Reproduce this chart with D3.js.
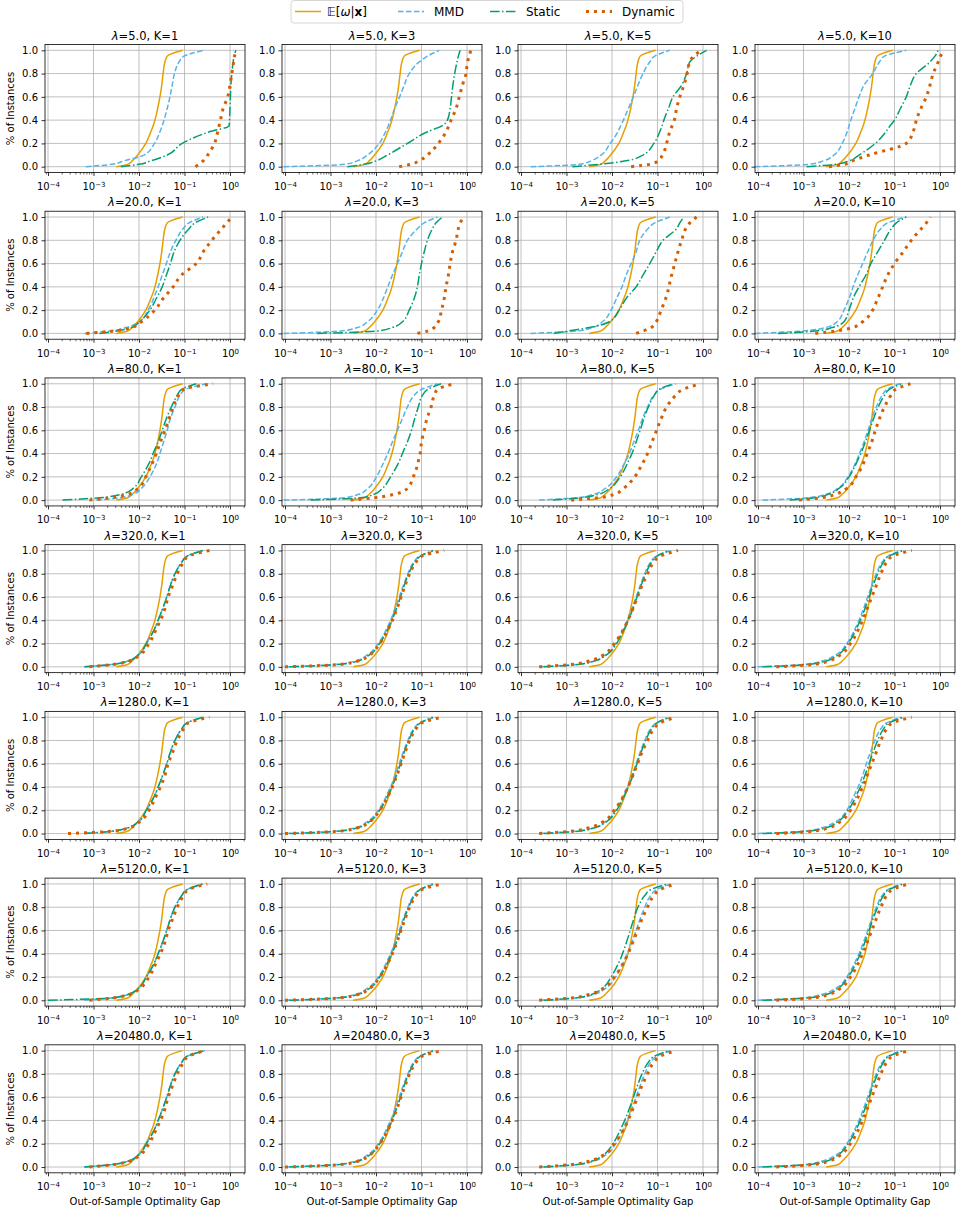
<!DOCTYPE html>
<html><head><meta charset="utf-8">
<script src="https://cdn.jsdelivr.net/npm/d3@7"></script>
<style>
body{margin:0;background:#fff}
svg{display:block}
text{font-family:"DejaVu Sans",sans-serif;fill:#000}
</style>
</head><body>
<svg id="chart" width="956" height="1212"></svg>
<script>
// ---------------- data ----------------
const lambdas = ["5.0","20.0","80.0","320.0","1280.0","5120.0","20480.0"];
const kValues = [1,3,5,10];
const methodNames = ["E","MMD","Static","Dynamic"];
const shareLevels = [0,0.02,0.05,0.1,0.2,0.3,0.35,0.4,0.5,0.6,0.7,0.8,0.9,0.95,1];
const xTickExponents = [-4,-3,-2,-1,0];
const yTicks = [0,0.2,0.4,0.6,0.8,1.0];

// log10 of the out-of-sample optimality gap reached at each share level
const expectedGapLog = [-2.5,-2.25,-2.15,-2.03,-1.85,-1.74,-1.69,-1.65,-1.59,-1.54,-1.5,-1.47,-1.43,-1.38,-1.04];

const mmdGapLog = [
 [[-3.17,-2.6,-2.33,-1.89,-1.66,-1.54,-1.49,-1.45,-1.38,-1.32,-1.27,-1.22,-1.12,-1.01,-0.58],
  [-4.03,-2.7,-2.41,-2.19,-1.93,-1.79,-1.73,-1.68,-1.59,-1.48,-1.38,-1.27,-1.05,-0.87,-0.61],
  [-3.79,-2.72,-2.46,-2.24,-2.04,-1.87,-1.81,-1.75,-1.64,-1.53,-1.43,-1.32,-1.17,-1.06,-0.73],
  [-4.07,-2.89,-2.56,-2.33,-2.15,-2.04,-2.0,-1.96,-1.87,-1.78,-1.67,-1.48,-1.33,-1.22,-0.74]],
 [[-3.2,-2.65,-2.28,-2.0,-1.8,-1.68,-1.63,-1.58,-1.49,-1.4,-1.31,-1.19,-1.03,-0.9,-0.59],
  [-4.03,-2.78,-2.41,-2.19,-1.97,-1.84,-1.79,-1.74,-1.64,-1.53,-1.42,-1.31,-1.09,-0.94,-0.65],
  [-3.79,-2.8,-2.43,-2.21,-2.02,-1.9,-1.84,-1.78,-1.69,-1.58,-1.47,-1.39,-1.21,-1.06,-0.73],
  [-4.07,-3.04,-2.52,-2.26,-2.11,-2.0,-1.95,-1.91,-1.81,-1.7,-1.59,-1.47,-1.3,-1.15,-0.74]],
 [[-2.94,-2.43,-2.13,-1.95,-1.76,-1.63,-1.58,-1.54,-1.46,-1.38,-1.31,-1.21,-1.1,-0.99,-0.51],
  [-4.03,-2.71,-2.38,-2.18,-1.99,-1.86,-1.8,-1.74,-1.64,-1.53,-1.42,-1.31,-1.16,-1.01,-0.65],
  [-3.6,-2.8,-2.4,-2.15,-1.9,-1.75,-1.68,-1.62,-1.52,-1.42,-1.33,-1.22,-1.08,-0.95,-0.6],
  [-3.9,-2.9,-2.5,-2.25,-2.02,-1.88,-1.82,-1.77,-1.67,-1.58,-1.5,-1.4,-1.27,-1.17,-0.9]],
 [[-3.2,-2.61,-2.24,-2.02,-1.84,-1.69,-1.63,-1.58,-1.48,-1.39,-1.31,-1.21,-1.06,-0.95,-0.6],
  [-4.0,-2.9,-2.45,-2.2,-1.95,-1.8,-1.74,-1.68,-1.58,-1.49,-1.4,-1.3,-1.17,-1.05,-0.7],
  [-3.6,-2.8,-2.4,-2.15,-1.92,-1.78,-1.72,-1.66,-1.56,-1.47,-1.38,-1.28,-1.15,-1.03,-0.7],
  [-4.0,-3.0,-2.6,-2.3,-2.05,-1.9,-1.84,-1.78,-1.68,-1.59,-1.5,-1.4,-1.27,-1.15,-0.85]],
 [[-3.2,-2.61,-2.24,-2.02,-1.84,-1.69,-1.63,-1.58,-1.48,-1.39,-1.31,-1.21,-1.06,-0.95,-0.6],
  [-4.0,-2.9,-2.45,-2.2,-1.95,-1.8,-1.74,-1.68,-1.58,-1.49,-1.4,-1.3,-1.17,-1.05,-0.7],
  [-3.6,-2.8,-2.4,-2.15,-1.92,-1.78,-1.72,-1.66,-1.56,-1.47,-1.38,-1.28,-1.15,-1.03,-0.7],
  [-4.0,-3.0,-2.6,-2.3,-2.05,-1.92,-1.86,-1.8,-1.7,-1.62,-1.53,-1.43,-1.3,-1.18,-0.85]],
 [[-3.2,-2.61,-2.24,-2.02,-1.84,-1.69,-1.63,-1.58,-1.48,-1.39,-1.31,-1.21,-1.06,-0.95,-0.6],
  [-4.0,-2.9,-2.45,-2.2,-1.95,-1.8,-1.74,-1.68,-1.58,-1.49,-1.4,-1.3,-1.17,-1.05,-0.7],
  [-3.6,-2.8,-2.4,-2.15,-1.92,-1.78,-1.72,-1.66,-1.56,-1.47,-1.38,-1.28,-1.15,-1.03,-0.7],
  [-4.0,-3.0,-2.6,-2.3,-2.05,-1.9,-1.84,-1.78,-1.68,-1.59,-1.5,-1.4,-1.27,-1.15,-0.85]],
 [[-3.2,-2.61,-2.24,-2.02,-1.84,-1.69,-1.63,-1.58,-1.48,-1.39,-1.31,-1.21,-1.06,-0.95,-0.55],
  [-4.0,-2.9,-2.45,-2.2,-1.95,-1.8,-1.74,-1.68,-1.58,-1.49,-1.4,-1.3,-1.17,-1.05,-0.7],
  [-3.6,-2.8,-2.4,-2.15,-1.92,-1.78,-1.72,-1.66,-1.56,-1.47,-1.38,-1.28,-1.15,-1.03,-0.7],
  [-4.0,-3.0,-2.6,-2.3,-2.05,-1.9,-1.84,-1.78,-1.68,-1.59,-1.5,-1.4,-1.27,-1.15,-0.85]]
];

const staticGapLog = [
 [[-2.4,-2.0,-1.74,-1.38,-1.05,-0.45,-0.02,-0.01,0.0,0.01,0.02,0.04,0.07,0.09,0.13],
  [-2.63,-2.26,-2.0,-1.75,-1.31,-0.87,-0.55,-0.43,-0.37,-0.34,-0.31,-0.27,-0.22,-0.19,-0.15],
  [-2.87,-2.28,-1.69,-1.32,-1.08,-0.95,-0.9,-0.86,-0.76,-0.66,-0.47,-0.36,-0.29,-0.14,0.08],
  [-2.93,-2.3,-2.0,-1.78,-1.42,-1.19,-1.1,-1.0,-0.87,-0.74,-0.65,-0.52,-0.22,-0.11,-0.04]],
 [[-2.87,-2.5,-2.17,-1.99,-1.76,-1.62,-1.55,-1.49,-1.4,-1.31,-1.23,-1.1,-0.9,-0.77,-0.48],
  [-3.29,-1.97,-1.64,-1.42,-1.27,-1.16,-1.12,-1.09,-1.05,-1.0,-0.94,-0.87,-0.76,-0.68,-0.54],
  [-3.28,-2.98,-2.5,-2.06,-1.84,-1.69,-1.58,-1.47,-1.32,-1.17,-1.03,-0.88,-0.58,-0.51,-0.42],
  [-3.56,-2.74,-2.37,-2.11,-2.0,-1.91,-1.85,-1.78,-1.63,-1.52,-1.37,-1.22,-1.07,-0.96,-0.74]],
 [[-3.68,-2.87,-2.39,-2.13,-1.95,-1.8,-1.74,-1.69,-1.58,-1.49,-1.4,-1.29,-1.16,-1.07,-0.74],
  [-3.44,-2.34,-2.04,-1.86,-1.68,-1.53,-1.47,-1.42,-1.31,-1.22,-1.15,-1.07,-0.98,-0.87,-0.57],
  [-3.3,-2.7,-2.3,-2.05,-1.82,-1.68,-1.62,-1.56,-1.47,-1.38,-1.3,-1.2,-1.07,-0.97,-0.65],
  [-3.3,-2.75,-2.45,-2.22,-2.0,-1.86,-1.8,-1.74,-1.64,-1.55,-1.46,-1.36,-1.22,-1.12,-0.85]],
 [[-3.2,-2.6,-2.24,-2.02,-1.84,-1.69,-1.63,-1.58,-1.48,-1.39,-1.31,-1.21,-1.06,-0.95,-0.6],
  [-3.9,-2.85,-2.4,-2.15,-1.92,-1.77,-1.71,-1.65,-1.55,-1.46,-1.38,-1.28,-1.15,-1.03,-0.75],
  [-3.5,-2.75,-2.38,-2.13,-1.9,-1.76,-1.7,-1.64,-1.54,-1.45,-1.36,-1.26,-1.13,-1.02,-0.75],
  [-3.9,-2.9,-2.5,-2.25,-2.02,-1.87,-1.81,-1.75,-1.65,-1.56,-1.47,-1.37,-1.24,-1.13,-0.8]],
 [[-3.2,-2.6,-2.24,-2.02,-1.84,-1.69,-1.63,-1.58,-1.48,-1.39,-1.31,-1.21,-1.06,-0.95,-0.6],
  [-3.9,-2.85,-2.4,-2.15,-1.92,-1.77,-1.71,-1.65,-1.55,-1.46,-1.38,-1.28,-1.15,-1.03,-0.75],
  [-3.5,-2.75,-2.38,-2.13,-1.9,-1.76,-1.7,-1.64,-1.54,-1.45,-1.36,-1.26,-1.13,-1.02,-0.75],
  [-3.9,-2.9,-2.5,-2.25,-2.02,-1.87,-1.81,-1.75,-1.65,-1.56,-1.47,-1.37,-1.24,-1.13,-0.8]],
 [[-4.0,-2.6,-2.24,-2.02,-1.84,-1.69,-1.63,-1.58,-1.48,-1.39,-1.31,-1.21,-1.06,-0.95,-0.6],
  [-3.9,-2.85,-2.4,-2.15,-1.92,-1.77,-1.71,-1.65,-1.55,-1.46,-1.38,-1.28,-1.15,-1.03,-0.75],
  [-3.5,-2.8,-2.45,-2.22,-2.02,-1.88,-1.82,-1.77,-1.68,-1.6,-1.52,-1.43,-1.28,-1.15,-0.78],
  [-3.9,-2.9,-2.5,-2.25,-2.02,-1.87,-1.81,-1.75,-1.65,-1.56,-1.47,-1.37,-1.24,-1.13,-0.8]],
 [[-3.2,-2.61,-2.24,-2.02,-1.84,-1.69,-1.63,-1.58,-1.48,-1.39,-1.31,-1.21,-1.06,-0.95,-0.55],
  [-3.9,-2.85,-2.4,-2.15,-1.92,-1.77,-1.71,-1.65,-1.55,-1.46,-1.38,-1.28,-1.15,-1.03,-0.75],
  [-3.5,-2.8,-2.45,-2.2,-1.98,-1.84,-1.78,-1.72,-1.62,-1.53,-1.44,-1.34,-1.2,-1.08,-0.75],
  [-3.9,-2.9,-2.5,-2.25,-2.02,-1.87,-1.81,-1.75,-1.65,-1.56,-1.47,-1.37,-1.24,-1.13,-0.8]]
];

const dynamicGapLog = [
 [[-0.76,-0.68,-0.59,-0.49,-0.34,-0.27,-0.24,-0.21,-0.15,-0.05,0.0,0.04,0.08,0.1,0.13],
  [-1.49,-1.24,-1.05,-0.87,-0.63,-0.46,-0.4,-0.35,-0.24,-0.17,-0.1,-0.02,0.01,0.05,0.08],
  [-1.58,-1.17,-0.99,-0.89,-0.8,-0.73,-0.68,-0.63,-0.58,-0.51,-0.42,-0.35,-0.29,-0.21,-0.03],
  [-2.44,-2.11,-1.93,-1.56,-0.74,-0.59,-0.55,-0.52,-0.42,-0.3,-0.22,-0.15,-0.04,0.01,0.11]],
 [[-3.16,-2.57,-2.17,-1.95,-1.65,-1.47,-1.36,-1.25,-1.07,-0.74,-0.59,-0.4,-0.18,-0.07,0.04],
  [-1.09,-0.87,-0.72,-0.63,-0.56,-0.5,-0.48,-0.46,-0.41,-0.37,-0.32,-0.24,-0.19,-0.15,-0.06],
  [-1.47,-1.32,-1.14,-1.03,-0.92,-0.82,-0.78,-0.75,-0.69,-0.62,-0.55,-0.47,-0.38,-0.29,-0.14],
  [-2.74,-2.3,-1.93,-1.7,-1.48,-1.37,-1.31,-1.26,-1.15,-1.0,-0.81,-0.63,-0.41,-0.3,-0.21]],
 [[-3.09,-2.65,-2.24,-2.02,-1.85,-1.73,-1.67,-1.62,-1.53,-1.43,-1.34,-1.25,-1.14,-1.03,-0.37],
  [-2.56,-2.04,-1.6,-1.31,-1.18,-1.09,-1.06,-1.03,-1.0,-0.94,-0.88,-0.79,-0.72,-0.65,-0.28],
  [-2.9,-2.3,-1.95,-1.75,-1.5,-1.35,-1.28,-1.22,-1.12,-1.02,-0.92,-0.8,-0.6,-0.45,-0.05],
  [-3.1,-2.6,-2.3,-2.05,-1.85,-1.7,-1.65,-1.6,-1.5,-1.42,-1.33,-1.22,-1.08,-0.98,-0.65]],
 [[-3.09,-2.58,-2.21,-1.99,-1.78,-1.65,-1.59,-1.53,-1.43,-1.36,-1.26,-1.16,-1.02,-0.92,-0.45],
  [-4.0,-2.8,-2.4,-2.15,-1.92,-1.76,-1.7,-1.64,-1.54,-1.45,-1.36,-1.26,-1.12,-1.0,-0.5],
  [-3.6,-2.9,-2.5,-2.2,-1.95,-1.78,-1.71,-1.65,-1.54,-1.44,-1.34,-1.22,-1.08,-0.95,-0.55],
  [-3.6,-2.8,-2.45,-2.2,-1.97,-1.82,-1.76,-1.7,-1.6,-1.5,-1.4,-1.3,-1.17,-1.05,-0.62]],
 [[-3.56,-2.6,-2.21,-1.99,-1.78,-1.65,-1.59,-1.53,-1.43,-1.36,-1.26,-1.16,-1.02,-0.92,-0.45],
  [-4.0,-2.8,-2.4,-2.15,-1.92,-1.76,-1.7,-1.64,-1.54,-1.45,-1.36,-1.26,-1.12,-1.0,-0.55],
  [-3.6,-2.9,-2.5,-2.2,-1.95,-1.78,-1.71,-1.65,-1.54,-1.44,-1.34,-1.22,-1.08,-0.95,-0.6],
  [-3.6,-2.8,-2.45,-2.2,-1.97,-1.82,-1.76,-1.7,-1.6,-1.5,-1.4,-1.3,-1.17,-1.05,-0.62]],
 [[-3.09,-2.58,-2.21,-1.99,-1.78,-1.65,-1.59,-1.53,-1.43,-1.36,-1.26,-1.16,-1.02,-0.92,-0.5],
  [-4.0,-2.8,-2.4,-2.15,-1.92,-1.76,-1.7,-1.64,-1.54,-1.45,-1.36,-1.26,-1.12,-1.0,-0.55],
  [-3.6,-2.9,-2.5,-2.2,-1.95,-1.78,-1.71,-1.65,-1.54,-1.44,-1.34,-1.22,-1.08,-0.95,-0.6],
  [-3.6,-2.8,-2.45,-2.2,-1.97,-1.82,-1.76,-1.7,-1.6,-1.5,-1.4,-1.3,-1.17,-1.05,-0.7]],
 [[-3.09,-2.58,-2.21,-1.99,-1.78,-1.65,-1.59,-1.53,-1.43,-1.36,-1.26,-1.16,-1.02,-0.92,-0.55],
  [-4.0,-2.8,-2.4,-2.15,-1.92,-1.76,-1.7,-1.64,-1.54,-1.45,-1.36,-1.26,-1.12,-1.0,-0.55],
  [-3.6,-2.9,-2.5,-2.2,-1.95,-1.78,-1.71,-1.65,-1.54,-1.44,-1.34,-1.22,-1.08,-0.95,-0.6],
  [-3.6,-2.8,-2.45,-2.2,-1.97,-1.82,-1.76,-1.7,-1.6,-1.5,-1.4,-1.3,-1.17,-1.05,-0.7]]
];

// ---------------- styles ----------------
const colors = {E:"#E69F00", MMD:"#56B4E9", Static:"#009E73", Dynamic:"#D55E00"};
const dashes = {E:null, MMD:"5.55,2.4", Static:"9.6,2.4,1.5,2.4", Dynamic:"3,4.95"};
const widths = {E:1.5, MMD:1.5, Static:1.5, Dynamic:3};

// ---------------- layout ----------------
const svg = d3.select("#chart");
const colLeft = [45, 282, 518, 755];
const rowTop0 = 44.5, rowStep = 166.72;
const W = 200, H = 128;

const x = d3.scaleLog().domain([Math.pow(10,-4.066), Math.pow(10,0.33)]).range([0, W]);
const y = d3.scaleLinear().domain([-0.05, 1.05]).range([H, 0]);

const majorX = xTickExponents.map(e => Math.pow(10, e));
const minorX = [];
for (let e = -5; e <= 0; e++) for (let m = 2; m <= 9; m++) {
  const v = m * Math.pow(10, e);
  if (v >= x.domain()[0] && v <= x.domain()[1]) minorX.push(v);
}
const supMinus = e => (e < 0 ? "\u2212" + (-e) : "" + e);

const line = d3.line()
  .x(d => x(Math.pow(10, d[0])))
  .y(d => y(d[1]))
  .curve(d3.curveMonotoneY);

function seriesFor(method, r, c) {
  let g;
  if (method === "E") g = expectedGapLog;
  else if (method === "MMD") g = mmdGapLog[r][c];
  else if (method === "Static") g = staticGapLog[r][c];
  else g = dynamicGapLog[r][c];
  return g.map((v, i) => [v, shareLevels[i]]);
}

lambdas.forEach((lam, r) => {
  kValues.forEach((k, c) => {
    const g = svg.append("g").attr("transform", `translate(${colLeft[c]},${rowTop0 + rowStep * r})`);

    // grid
    g.append("g").selectAll("line").data(majorX).join("line")
      .attr("x1", d => x(d)).attr("x2", d => x(d)).attr("y1", 0).attr("y2", H)
      .attr("stroke", "#b0b0b0").attr("stroke-width", 0.8);
    g.append("g").selectAll("line").data(yTicks).join("line")
      .attr("x1", 0).attr("x2", W).attr("y1", d => y(d)).attr("y2", d => y(d))
      .attr("stroke", "#b0b0b0").attr("stroke-width", 0.8);

    // curves
    const plot = g.append("g");
    methodNames.forEach(m => {
      plot.append("path")
        .attr("d", line(seriesFor(m, r, c)))
        .attr("fill", "none")
        .attr("stroke", colors[m])
        .attr("stroke-width", widths[m])
        .attr("stroke-dasharray", dashes[m])
        .attr("stroke-linecap", "butt");
    });

    // x axis
    const xa = g.append("g").attr("transform", `translate(0,${H})`)
      .call(d3.axisBottom(x).tickValues(majorX).tickSize(3.5).tickPadding(3.5).tickFormat(() => ""));
    xa.select(".domain").remove();
    xa.selectAll(".tick line").attr("stroke", "#000").attr("stroke-width", 0.8);
    xa.selectAll(".tick text").each(function(d) {
      const t = d3.select(this);
      const e = Math.round(Math.log10(d));
      t.text(null).attr("font-size", 10).attr("fill", "#000").attr("dy", "1.05em");
      t.append("tspan").text("10");
      t.append("tspan").attr("dy", "-0.45em").attr("font-size", 7).text(supMinus(e));
    });
    const xm = g.append("g").attr("transform", `translate(0,${H})`)
      .call(d3.axisBottom(x).tickValues(minorX).tickSize(2).tickFormat(() => ""));
    xm.select(".domain").remove();
    xm.selectAll(".tick line").attr("stroke", "#000").attr("stroke-width", 0.6);

    // y axis
    const ya = g.append("g")
      .call(d3.axisLeft(y).tickValues(yTicks).tickSize(3.5).tickPadding(3.5).tickFormat(d3.format(".1f")));
    ya.select(".domain").remove();
    ya.selectAll(".tick line").attr("stroke", "#000").attr("stroke-width", 0.8);
    ya.selectAll(".tick text").attr("font-size", 10).attr("fill", "#000");

    // spines
    g.append("rect").attr("x", 0).attr("y", 0).attr("width", W).attr("height", H)
      .attr("fill", "none").attr("stroke", "#000").attr("stroke-width", 0.8);

    // title
    const tt = g.append("text").attr("x", W / 2).attr("y", -5).attr("text-anchor", "middle").attr("font-size", 11.5);
    tt.append("tspan").attr("font-style", "italic").text("\u03bb");
    tt.append("tspan").text(`=${lam}, K=${k}`);

    if (c === 0) {
      g.append("text").attr("transform", `translate(-31,${H / 2}) rotate(-90)`)
        .attr("text-anchor", "middle").attr("font-size", 10).text("% of Instances");
    }
    if (r === lambdas.length - 1) {
      g.append("text").attr("x", W / 2).attr("y", H + 32).attr("text-anchor", "middle")
        .attr("font-size", 10).text("Out-of-Sample Optimality Gap");
    }
  });
});

// ---------------- legend ----------------
const leg = svg.append("g");
leg.append("rect").attr("x", 291).attr("y", 0.5).attr("width", 392).attr("height", 22.5).attr("rx", 3)
  .attr("fill", "#fff").attr("stroke", "#cccccc").attr("stroke-width", 0.8);
const legItems = [
  {m: "E", x0: 295, tx: 327},
  {m: "MMD", x0: 398, tx: 434},
  {m: "Static", x0: 490, tx: 526},
  {m: "Dynamic", x0: 586, tx: 622}
];
legItems.forEach(it => {
  leg.append("line").attr("x1", it.x0).attr("x2", it.x0 + 26).attr("y1", 11.5).attr("y2", 11.5)
    .attr("stroke", colors[it.m]).attr("stroke-width", widths[it.m]).attr("stroke-dasharray", dashes[it.m]);
  const t = leg.append("text").attr("x", it.tx).attr("y", 16).attr("font-size", 12);
  if (it.m === "E") {
    t.append("tspan").text("\ud835\udd3c[");
    t.append("tspan").attr("font-style", "italic").text("\u03c9");
    t.append("tspan").text("|");
    t.append("tspan").attr("font-weight", "bold").text("x");
    t.append("tspan").text("]");
  } else {
    t.text(it.m);
  }
});
</script>
</body></html>
